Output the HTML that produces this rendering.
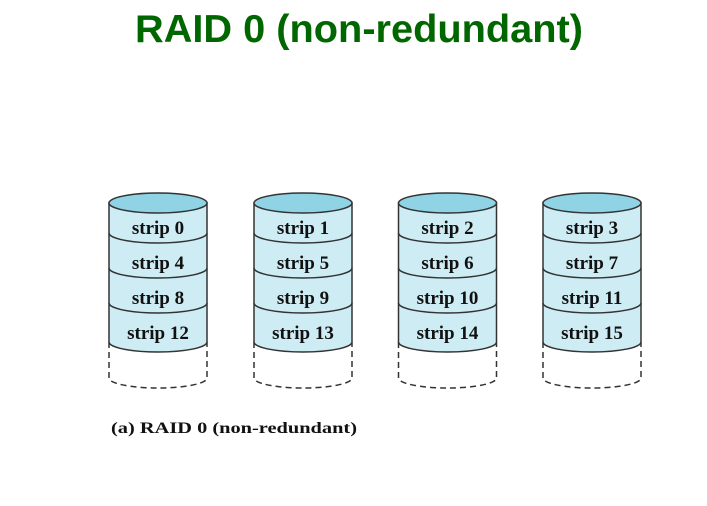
<!DOCTYPE html>
<html><head><meta charset="utf-8"><style>
html,body{margin:0;padding:0;background:#fff;}
svg{display:block;}
</style></head><body>
<svg width="707" height="506" viewBox="0 0 707 506" xmlns="http://www.w3.org/2000/svg">
<text x="359" y="42" text-anchor="middle" font-family="Liberation Sans, sans-serif" font-weight="bold" font-size="39" fill="#006600" textLength="448" lengthAdjust="spacingAndGlyphs">RAID 0 (non-redundant)</text>
<g stroke="#333" stroke-width="1.5" font-family="Liberation Serif, serif" font-weight="bold" font-size="19">
<g id="c" transform="translate(158,0)">
<path d="M-49,203 L-49,342 A49,10 0 0 0 49,342 L49,203 Z" fill="#cdecf4"/>
<ellipse cx="0" cy="203" rx="49" ry="10" fill="#8fd3e4"/>
<path d="M-49,233 A49,10 0 0 0 49,233 M-49,268 A49,10 0 0 0 49,268 M-49,303 A49,10 0 0 0 49,303" fill="none"/>
<path d="M-49,342 L-49,378 A49,10 0 0 0 49,378 L49,342" fill="none" stroke-dasharray="6,4"/>
</g>
<use href="#c" x="145"/>
<use href="#c" x="289.5"/>
<use href="#c" x="434"/>
<g stroke="none" fill="#111" text-anchor="middle">
<text x="158" y="234">strip 0</text><text x="158" y="269">strip 4</text><text x="158" y="304">strip 8</text><text x="158" y="339">strip 12</text>
<text x="303" y="234">strip 1</text><text x="303" y="269">strip 5</text><text x="303" y="304">strip 9</text><text x="303" y="339">strip 13</text>
<text x="447.5" y="234">strip 2</text><text x="447.5" y="269">strip 6</text><text x="447.5" y="304">strip 10</text><text x="447.5" y="339">strip 14</text>
<text x="592" y="234">strip 3</text><text x="592" y="269">strip 7</text><text x="592" y="304">strip 11</text><text x="592" y="339">strip 15</text>
</g>
</g>
<text x="111" y="433" font-family="Liberation Serif, serif" font-weight="bold" font-size="16" fill="#111" textLength="246" lengthAdjust="spacingAndGlyphs">(a) RAID 0 (non-redundant)</text>
</svg>
</body></html>
